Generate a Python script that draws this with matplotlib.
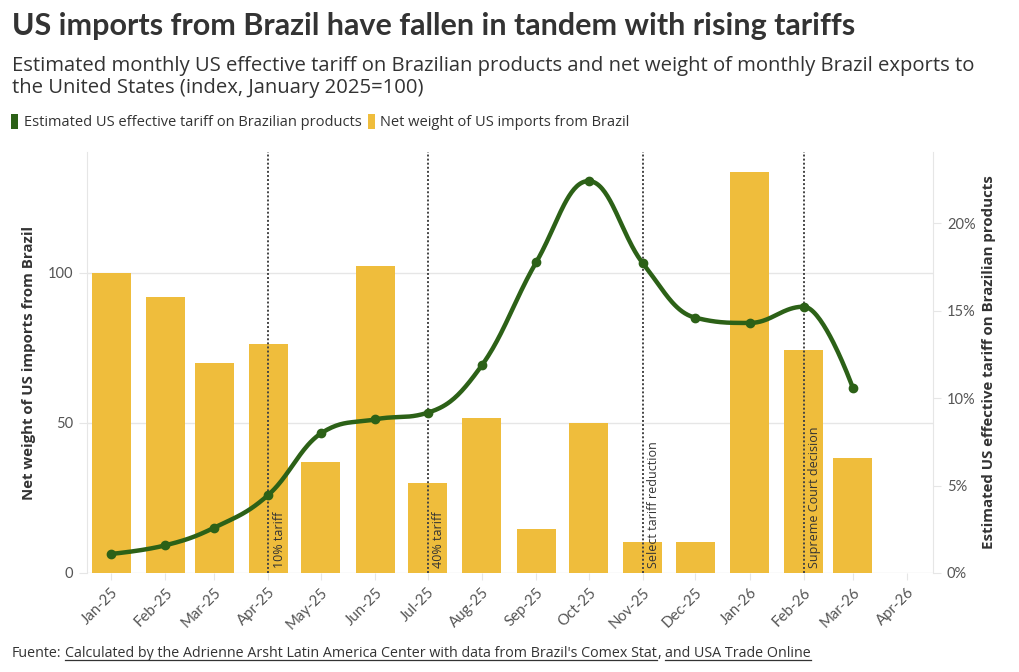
import matplotlib
matplotlib.use("Agg")
import matplotlib.pyplot as plt
import matplotlib.dates as mdates
from matplotlib.patches import Patch
from matplotlib.lines import Line2D
from matplotlib.ticker import FuncFormatter
import numpy as np
import pandas as pd

# data
months = pd.date_range("2025-01-01", "2026-03-01", freq="MS")
tick_months = pd.date_range("2025-01-01", "2026-04-01", freq="MS")
imports_index = [100, 92, 70.1, 76.3, 37.1, 102.3, 30, 51.6, 14.8, 49.9, 10.2, 10.2, 133.6, 74.3, 38.3]
tariff_pct = [1.09, 1.58, 2.59, 4.47, 7.98, 8.78, 9.16, 11.87, 17.75, 22.4, 17.7, 14.59, 14.29, 15.22, 10.59]
events = ["2025-04-01", "2025-07-01", "2025-11-01", "2026-02-01"]
event_labels = ["10% tariff", "40% tariff", "Select tariff reduction", "Supreme Court decision"]

BAR = "#EFBD3C"
GREEN = "#2C6117"
TXT = "#333333"
GRID = "#E6E6E6"

W, H = 1020, 672
fig = plt.figure(figsize=(W / 100, H / 100), dpi=100)
fig.patch.set_facecolor("white")

# plot area in pixels: x 87..933, y 152..573
ax = fig.add_axes([87 / W, (H - 573) / H, 846 / W, 421 / H])
ax2 = ax.twinx()

start = pd.Timestamp("2025-01-01")
px_per_day = 796 / 455.0
x0 = mdates.date2num(start - pd.Timedelta(days=24 / px_per_day))
x1 = mdates.date2num(pd.Timestamp("2026-04-01") + pd.Timedelta(days=26 / px_per_day))
xm = mdates.date2num(months)

ax.bar(xm, imports_index, width=39 / px_per_day, color=BAR, zorder=2)
ax.set_xlim(x0, x1)
ax.set_ylim(0, 140.33)
ax.set_yticks([0, 50, 100])
ax.grid(axis="y", color=GRID, lw=1, zorder=0)
ax.set_axisbelow(True)

ax2.set_ylim(0, 0.2406)
ax2.set_yticks([0, 0.05, 0.10, 0.15, 0.20])
ax2.yaxis.set_major_formatter(FuncFormatter(lambda v, p: f"{v * 100:.0f}%"))

for a in (ax, ax2):
    for s in ("top", "bottom"):
        a.spines[s].set_visible(False)
    a.spines["left"].set_color(GRID)
    a.spines["right"].set_color(GRID)
ax.spines["right"].set_visible(False)
ax2.spines["left"].set_visible(False)

ax.set_xticks(mdates.date2num(tick_months))
ax.set_xticklabels([d.strftime("%b-%y") for d in tick_months], rotation=45, ha="right",
                   rotation_mode="anchor", fontsize=10.8, color="#555555", family="Lato")
ax.tick_params(axis="x", length=5, color=GRID, pad=4)
ax.tick_params(axis="y", length=6, color=GRID, labelsize=10.5, labelcolor="#555555", pad=4)
ax2.tick_params(axis="y", length=6, color=GRID, labelsize=10.5, labelcolor="#555555", pad=4)
for lab in ax.get_yticklabels() + ax2.get_yticklabels():
    lab.set_family("Lato")

ax.set_ylabel("Net weight of US imports from Brazil", fontsize=10.8, fontweight="bold",
              color=TXT, family="Open Sans")
ax.yaxis.set_label_coords((36 - 87) / 846, 0.5)
ax2.set_ylabel("Estimated US effective tariff on Brazilian products", fontsize=10.8,
               fontweight="bold", color=TXT, family="Open Sans", rotation=90)
ax2.yaxis.set_label_coords((982 - 87) / 846, (573 - 362) / 421)

# event markers
for d, lab in zip(events, event_labels):
    xd = mdates.date2num(pd.Timestamp(d))
    ax.axvline(xd, color="#444444", ls=(0, (1, 1.1)), lw=1.4, zorder=3)
    ax.text(xd + 2.5, 1.5, lab, rotation=90, ha="left", va="bottom", fontsize=9,
            color=TXT, family="Open Sans", zorder=4)

# smooth spline through the tariff points (Highcharts-style), in display coords
ty = np.array(tariff_pct) / 100
pts = ax2.transData.transform(np.column_stack([xm, ty]))
sm = 1.5
n = len(pts)
lc = pts.copy()
rc = pts.copy()
for i in range(1, n - 1):
    px, py = pts[i]
    lx, ly = pts[i - 1]
    nx, ny = pts[i + 1]
    lcx = (sm * px + lx) / (sm + 1)
    lcy = (sm * py + ly) / (sm + 1)
    rcx = (sm * px + nx) / (sm + 1)
    rcy = (sm * py + ny) / (sm + 1)
    corr = (rcy - lcy) * (rcx - px) / (rcx - lcx) + py - rcy
    lcy += corr
    rcy += corr
    if lcy > ly and lcy > py:
        lcy = max(ly, py); rcy = 2 * py - lcy
    elif lcy < ly and lcy < py:
        lcy = min(ly, py); rcy = 2 * py - lcy
    if rcy > ny and rcy > py:
        rcy = max(ny, py); lcy = 2 * py - rcy
    elif rcy < ny and rcy < py:
        rcy = min(ny, py); lcy = 2 * py - rcy
    lc[i] = (lcx, lcy)
    rc[i] = (rcx, rcy)
t = np.linspace(0, 1, 40)[:, None]
curve = []
for i in range(1, n):
    p0, c1, c2, p3 = pts[i - 1], rc[i - 1], lc[i], pts[i]
    seg = ((1 - t) ** 3) * p0 + 3 * ((1 - t) ** 2) * t * c1 + 3 * (1 - t) * t ** 2 * c2 + t ** 3 * p3
    curve.append(seg)
curve = np.vstack(curve)
curve_data = ax2.transData.inverted().transform(curve)
ax2.plot(curve_data[:, 0], curve_data[:, 1], color=GREEN, lw=3.2, solid_capstyle="round", zorder=5)
ax2.plot(xm, ty, "o", color=GREEN, ms=6, zorder=6)

# titles
fig.text(12 / W, 1 - 26 / H, "US imports from Brazil have fallen in tandem with rising tariffs",
         fontsize=22, fontweight="bold", color=TXT, family="Lato", va="center", ha="left")
fig.text(12 / W, 1 - 77 / H,
         "Estimated monthly US effective tariff on Brazilian products and net weight of monthly Brazil exports to\nthe United States (index, January 2025=100)",
         fontsize=14.6, color=TXT, family="Open Sans", va="center", ha="left", linespacing=1.15)

handles = [Patch(facecolor=GREEN, label="Estimated US effective tariff on Brazilian products"),
           Patch(facecolor=BAR, label="Net weight of US imports from Brazil")]
leg = fig.legend(handles=handles, loc="center left", bbox_to_anchor=(-2 / W, 1 - 122 / H), ncol=2,
                 frameon=False, handlelength=0.5, handleheight=1.3, handletextpad=0.35,
                 columnspacing=0.45, prop={"family": "Open Sans", "size": 10.5})
for txt in leg.get_texts():
    txt.set_color(TXT)

# source line with underlined link text
fig.canvas.draw()
r = fig.canvas.get_renderer()
parts = [("Fuente:", False), (" ", False),
         ("Calculated by the Adrienne Arsht Latin America Center with data from Brazil's Comex Stat", True),
         (",", False), (" ", False), ("and USA Trade Online", True)]
xpos = 12
ypos = H - 657
for s, ul in parts:
    if s == " ":
        xpos += 4
        continue
    tt = fig.text(xpos / W, ypos / H, s, fontsize=10.3, color=TXT, family="Open Sans",
                  va="baseline", ha="left")
    bb = tt.get_window_extent(r)
    if ul:
        fig.add_artist(Line2D([bb.x0 / W, bb.x1 / W], [(ypos - 3) / H, (ypos - 3) / H],
                              transform=fig.transFigure, color=TXT, lw=0.9))
    xpos = bb.x1

fig.savefig("out.png", dpi=100, facecolor="white")
